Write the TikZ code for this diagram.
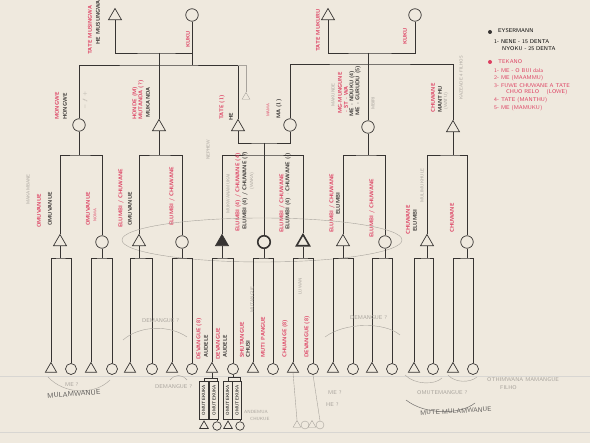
\documentclass[tikz,border=0pt]{standalone}
\usetikzlibrary{shapes.geometric}
\definecolor{paper}{RGB}{239,233,222}
\definecolor{ink}{RGB}{55,52,50}
\definecolor{redink}{RGB}{221,62,96}
\definecolor{pencil}{RGB}{168,163,156}
\tikzset{
  male/.style={regular polygon, regular polygon sides=3, draw=ink, line width=0.7pt, minimum size=15pt, inner sep=0pt},
  female/.style={circle, draw=ink, line width=0.7pt, minimum size=12.5pt, inner sep=0pt},
  kin/.style={draw=ink, line width=0.7pt},
  lbl/.style={rotate=90, anchor=west, inner sep=0pt, text=ink, font=\sffamily\bfseries\fontsize{5.5}{6}\selectfont},
  rlbl/.style={lbl, text=redink},
  plbl/.style={lbl, text=pencil, font=\sffamily\fontsize{4.5}{5}\selectfont},
  note/.style={anchor=west, inner sep=0pt, font=\sffamily\fontsize{5.5}{6}\selectfont},
  boxlbl/.style={draw=ink, fill=paper, rotate=90, inner sep=0.5pt, minimum width=38pt, minimum height=9pt, font=\sffamily\fontsize{4.5}{5}\selectfont}
}
\begin{document}
\begin{tikzpicture}[x=1pt, y=-1pt]
  % paper
  \fill[paper] (0,0) rectangle (590,443);
  \useasboundingbox (0,0) rectangle (590,443);
  \draw[pencil!45, line width=0.3pt] (0,376) -- (590,376);
  \draw[pencil!45, line width=0.3pt] (0,432) -- (590,432);

  % grandparents
  \node[male] (tatel) at (115,16) {};
  \node[female] (kukul) at (192,15) {};
  \node[male] (tater) at (328,16) {};
  \node[female] (kukur) at (415,15) {};
  \node[rlbl] at (90,55) {TATE MUSINGWA};
  \node[lbl] at (98,45) {HE MUSUNGWA};
  \node[rlbl] at (188,48) {KUKU};
  \node[rlbl] at (318,52) {TATE MUKURU};
  \node[rlbl] at (405,45) {KUKU};

  % parents
  \node[female] (hongwe) at (79,125) {};
  \node[male] (honde) at (159,127) {};
  \node[male] (he) at (238,127) {};
  \node[female] (ma) at (290,125) {};
  \node[female] (mungune) at (368,127) {};
  \node[male] (chuwane) at (453,128) {};
  \node[rlbl] at (57,120) {MONGWE};
  \node[lbl] at (65,120) {HONGWE};
  \node[plbl] at (85,110) {$-\;f\;+$};
  \node[rlbl] at (135,120) {HONDE (M)};
  \node[rlbl] at (141,120) {MUTANDA (?)};
  \node[lbl] at (148,118) {MUKANDA};
  \node[rlbl] at (222,120) {TATE (1)};
  \node[lbl] at (231,121) {HE};
  \node[rlbl, font=\sffamily\fontsize{4}{5}\selectfont] at (268,117) {MAMA};
  \node[lbl] at (279,119) {MA (1)};
  \node[plbl] at (333,107) {MAKUNDE};
  \node[rlbl] at (340,114) {MG-MUNGUNE};
  \node[rlbl] at (346,113) {- ST - WA};
  \node[lbl] at (352,117) {ME - NDUKU (4)};
  \node[lbl] at (358,116) {ME - GURUDU (5)};
  \node[plbl] at (373,110) {MBIRI};
  \node[rlbl] at (433,113) {CHUWANE};
  \node[lbl] at (440,113) {MANTHU};
  \node[plbl] at (446,110) {(WATU)};
  \node[plbl] at (461,100) {KAZEADE 4 FILHOS};

  \coordinate (mleft) at (159,53);
  \coordinate (barleft) at (159,65);
  \draw[kin] (tatel.south) |- (mleft) -| (kukul.south);
  \draw[kin] (kukul.south) -- (kukul.south |- barleft);
  \draw[kin] (mleft) -- (honde.north);
  \draw[kin] (hongwe.north) |- (barleft) -| (he.north);
  \node[male, draw=pencil, minimum size=9pt, line width=0.4pt] (peer) at (246,97) {};
  \draw[pencil, line width=0.4pt] (he.north |- barleft) -- ++(8,0) -- (peer.north);

  \coordinate (mright) at (368,53);
  \coordinate (barright) at (368,64);
  \draw[kin] (tater.south) |- (mright) -| (kukur.south);
  \draw[kin] (mright) -- (mungune.north);
  \draw[kin] (ma.north) |- (barright) -| (chuwane.north);

  % children
  \node[male] (c1) at (60,242) {};
  \node[female] (c2) at (102,242) {};
  \node[male] (c3) at (139,242) {};
  \node[female] (c4) at (182,242) {};
  \node[male, fill=ink] (c5) at (222,242) {};
  \node[female, line width=1.6pt] (c6) at (264,242) {};
  \node[male, line width=1.6pt] (c7) at (303,242) {};
  \node[male] (c8) at (343,242) {};
  \node[female] (c9) at (385,242) {};
  \node[male] (c10) at (427,242) {};
  \node[female] (c11) at (467,242) {};

  \coordinate (mhe) at (264,143);
  \coordinate (barhe) at (264,155);
  \draw[kin] (he.south) |- (mhe) -| (ma.south);
  \draw[kin] (mhe) -- (c6.north);
  \draw[kin] (c5.north) |- (barhe) -| (c7.north);
  \coordinate (bhongwe) at (79,155);
  \draw[kin] (hongwe.south) -- (bhongwe);
  \draw[kin] (c1.north) |- (bhongwe) -| (c2.north);
  \coordinate (bhonde) at (159,155);
  \draw[kin] (honde.south) -- (bhonde);
  \draw[kin] (c3.north) |- (bhonde) -| (c4.north);
  \coordinate (bmungune) at (368,155);
  \draw[kin] (mungune.south) -- (bmungune);
  \draw[kin] (c8.north) |- (bmungune) -| (c9.north);
  \coordinate (bchuwane) at (453,155);
  \draw[kin] (chuwane.south) -- (bchuwane);
  \draw[kin] (c10.north) |- (bchuwane) -| (c11.north);

  \node[plbl] at (28,205) {MAKAMBANE};
  \node[rlbl] at (39,228) {OMUVANUE};
  \node[lbl] at (50,226) {OMUVANUE};
  \node[rlbl] at (88,226) {OMUVANUE};
  \node[rlbl, font=\sffamily\fontsize{4}{5}\selectfont] at (95,222) {NOMA};
  \node[rlbl] at (121,228) {ELUMBI / CHUWANE};
  \node[lbl] at (130,226) {OMUVANUE};
  \node[rlbl] at (172,226) {ELUMBI / CHUWANE};
  \node[plbl] at (228,214) {MUKWANAMUKAI};
  \node[plbl] at (208,160) {NEPHEW};
  \node[rlbl] at (238,232) {ELUMBI (4) / CHUWANE (4)};
  \node[lbl] at (245,230) {ELUMBI (4) / CHUWANE (?)};
  \node[plbl] at (252,190) {(WAKA)};
  \node[rlbl] at (282,233) {ELUMBI / CHUWANE};
  \node[lbl] at (288,230) {ELUMBI (4) $\cdot$ CHUWANE (-)};
  \node[rlbl] at (332,233) {ELUMBI / CHUWANE};
  \node[lbl] at (338,215) {ELUMBI};
  \node[rlbl] at (372,238) {ELUMBI / CHUWANE};
  \node[rlbl] at (408,235) {CHUWANE};
  \node[lbl] at (415,232) {ELUMBI};
  \node[plbl] at (422,203) {MULIMUKHULE};
  \node[rlbl] at (452,233) {CHUWANE};
  \draw[pencil, line width=0.4pt] (262,240) ellipse (140 and 22);

  % grandchildren
  \foreach \x [count=\i] in {51,91,130,172,212,253,293,333,372,414,453}
    \node[male, minimum size=13pt] (ga\i) at (\x,369) {};
  \foreach \x [count=\i] in {71,112,152,192,233,273,313,353,392,433,473}
    \node[female, minimum size=11pt] (gb\i) at (\x,369) {};
  \foreach \i in {1,...,11} {
    \path (c\i) ++(0,16) coordinate (k\i);
    \draw[kin] (c\i.south) -- (k\i);
    \draw[kin] (ga\i.north) |- (k\i) -| (gb\i.north);
  }
  \node[rlbl] at (199,360) {DEVANGUE (8)};
  \node[lbl] at (206,358) {AUDELE};
  \node[rlbl] at (218,360) {DEVANGUE};
  \node[lbl] at (225,358) {AUDELE};
  \node[rlbl] at (242,358) {SHUTANGUE};
  \node[lbl] at (248,358) {CHUSI};
  \node[plbl] at (252,313) {MUTANGUE};
  \node[rlbl] at (263,358) {MUTI PANGUE};
  \node[rlbl] at (285,358) {CHUANGE (8)};
  \node[rlbl] at (307,358) {DEVANGUE (8)};
  \node[plbl] at (300,295) {LUWAN};

  % great-grandchildren
  \node[male, minimum size=10pt] (da1) at (204,426) {};
  \node[female, minimum size=8.5pt] (db1) at (217,426) {};
  \node[male, minimum size=10pt] (da2) at (228,426) {};
  \node[female, minimum size=8.5pt] (db2) at (240,426) {};
  \path (ga5.south) ++(0,6) coordinate (k12);
  \path (gb5.south) ++(0,3) coordinate (k13);
  \draw[kin] (ga5.south) -- (k12);
  \draw[kin] (da1.north) |- (k12) -| (db1.north);
  \draw[kin] (gb5.south) -- (k13);
  \draw[kin] (da2.north) |- (k13) -| (db2.north);
  \node[boxlbl] at (203.5,400) {OMUTEKUKA};
  \node[boxlbl] at (214,400) {OMUTEKUKA};
  \node[boxlbl] at (227.5,400) {OMUTEKUKA};
  \node[boxlbl] at (237,400) {OMUTEKUKA};
  \node[note, text=pencil, font=\sffamily\fontsize{4.5}{5}\selectfont] at (244,412) {ANDEMUA};
  \node[note, text=pencil, font=\sffamily\fontsize{4.5}{5}\selectfont] at (250,419) {CHUKUE};

  % pencil notes below
  \draw[pencil, line width=0.4pt] (48,377) .. controls (65,395) and (95,395) .. (110,380);
  \node[note, text=pencil] at (65,385) {ME ?};
  \node[note, text=ink!80, font=\sffamily\fontsize{7}{8}\selectfont, rotate=4] at (47,396) {MULAMWANUE};
  \draw[pencil, line width=0.4pt] (123,340) .. controls (140,325) and (170,325) .. (187,337);
  \node[note, text=pencil] at (142,321) {DEMANGUE ?};
  \draw[pencil, line width=0.4pt] (170,380) .. controls (175,374) and (182,374) .. (187,380);
  \node[note, text=pencil] at (155,387) {DEMANGUE ?};
  \draw[pencil, line width=0.4pt] (325,337) .. controls (345,322) and (385,322) .. (400,335);
  \node[note, text=pencil] at (350,318) {DEMANGUE ?};
  \node[male, draw=pencil, line width=0.4pt, minimum size=9pt] (pa1) at (297,425) {};
  \node[female, draw=pencil, line width=0.4pt, minimum size=8pt] (pb1) at (305,425) {};
  \node[male, draw=pencil, line width=0.4pt, minimum size=9pt] (pa2) at (312,425) {};
  \node[female, draw=pencil, line width=0.4pt, minimum size=8pt] (pb2) at (320,425) {};
  \draw[pencil, line width=0.4pt] (ga7.south) -- (pa1.north);
  \draw[pencil, line width=0.4pt] (gb7.south) -- (pb2.north);
  \node[note, text=pencil] at (328,393) {ME ?};
  \node[note, text=pencil] at (326,405) {HE ?};
  \draw[pencil, line width=0.4pt] (405,375) .. controls (415,385) and (435,385) .. (442,378);
  \draw[pencil, line width=0.4pt] (448,375) .. controls (455,383) and (470,383) .. (477,377);
  \node[note, text=pencil] at (417,393) {OMUTEMANGUE ?};
  \node[note, text=pencil] at (487,380) {OTHIMWANA MAMANGUE};
  \node[note, text=pencil] at (500,388) {FILHO};
  \draw[ink!70, line width=0.5pt] (406,400) .. controls (425,415) and (460,415) .. (475,403);
  \node[note, text=ink!80, font=\sffamily\fontsize{6.5}{7}\selectfont, rotate=3] at (420,413) {MUTE MULAMWANUE};

  % legend
  \fill[ink] (490,32) circle (2);
  \node[note] at (498,31) {EYSERMANN};
  \node[note] at (494,42) {1- NENE - 15 DENTA};
  \node[note] at (502,49) {NYOKU - 25 DENTA};
  \fill[redink] (490,62) circle (2);
  \node[note, text=redink] at (498,62) {TEKANO};
  \node[note, text=redink] at (494,71) {1- ME - O BUI dala};
  \node[note, text=redink] at (494,78) {2- ME (MAAMMU)};
  \node[note, text=redink] at (494,86) {3- FUWE CHUWANE A TATE};
  \node[note, text=redink] at (506,92) {CHUO RELO \quad (LOWE)};
  \node[note, text=redink] at (494,100) {4- TATE (MANTHU)};
  \node[note, text=redink] at (494,108) {5- ME (MAMUKU)};
\end{tikzpicture}
\end{document}
